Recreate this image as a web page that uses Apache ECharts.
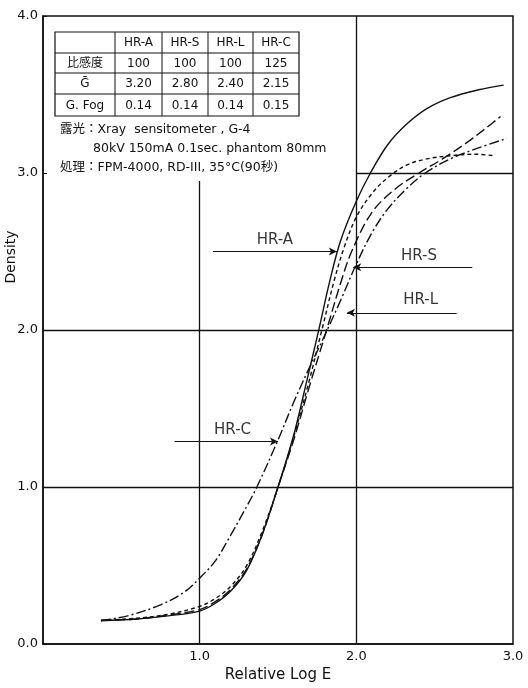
<!DOCTYPE html>
<html>
<head>
<meta charset="utf-8">
<script src="https://cdn.jsdelivr.net/npm/echarts@6/dist/echarts.min.js"></script>
<style>
  html, body { margin: 0; padding: 0; background: #fff; }
  #chart { width: 528px; height: 688px; }
</style>
</head>
<body>
<div id="chart"></div>
<script>
// characteristic curves, [relative log E, density]
const hrA = [[0.37,0.15],[0.6,0.16],[0.8,0.18],[1.0,0.21],[1.1,0.26],[1.2,0.34],[1.3,0.47],[1.4,0.7],[1.5,1.0],[1.6,1.33],[1.68,1.66],[1.76,2.0],[1.83,2.31],[1.9,2.57],[2.0,2.82],[2.09,3.0],[2.2,3.18],[2.32,3.31],[2.45,3.41],[2.6,3.48],[2.78,3.53],[2.94,3.56]];
const hrS = [[0.37,0.15],[0.6,0.165],[0.8,0.19],[1.0,0.24],[1.1,0.29],[1.2,0.37],[1.3,0.5],[1.4,0.72],[1.5,1.0],[1.6,1.32],[1.7,1.68],[1.78,2.0],[1.86,2.32],[1.92,2.52],[2.0,2.72],[2.1,2.87],[2.2,2.97],[2.32,3.05],[2.45,3.09],[2.6,3.11],[2.75,3.12],[2.88,3.11]];
const hrL = [[0.37,0.15],[0.6,0.16],[0.8,0.185],[1.0,0.22],[1.1,0.27],[1.2,0.35],[1.3,0.48],[1.4,0.7],[1.5,1.0],[1.6,1.3],[1.7,1.64],[1.81,2.0],[1.9,2.3],[1.97,2.5],[2.1,2.75],[2.25,2.9],[2.4,3.0],[2.55,3.09],[2.7,3.19],[2.82,3.28],[2.92,3.36]];
const hrC = [[0.37,0.15],[0.54,0.18],[0.75,0.25],[0.9,0.33],[1.0,0.42],[1.1,0.53],[1.19,0.68],[1.28,0.84],[1.365,1.0],[1.5,1.3],[1.6,1.54],[1.7,1.76],[1.8,1.97],[1.9,2.19],[2.0,2.42],[2.1,2.62],[2.2,2.77],[2.32,2.9],[2.44,3.0],[2.6,3.09],[2.78,3.16],[2.96,3.22]];

// film property table
const tableHeader = ['', 'HR-A', 'HR-S', 'HR-L', 'HR-C'];
const tableRows = [
  ['比感度', '100', '100', '100', '125'],
  ['Ḡ', '3.20', '2.80', '2.40', '2.15'],
  ['G. Fog', '0.14', '0.14', '0.14', '0.15']
];
const noteLines = [
  '露光：Xray  sensitometer , G-4',
  '80kV 150mA 0.1sec. phantom 80mm',
  '処理：FPM-4000, RD-III, 35°C(90秒)'
];

// curve labels with arrows: name, text position, arrow from -> to (data units)
const labelNames = ['HR-A', 'HR-S', 'HR-L', 'HR-C'];
const labelPos = [[1.48, 2.57], [2.40, 2.47], [2.41, 2.19], [1.21, 1.36]];
const arrowFrom = [[1.085, 2.50], [2.74, 2.40], [2.64, 2.11], [0.84, 1.29]];
const arrowTo = [[1.876, 2.50], [1.98, 2.40], [1.94, 2.11], [1.50, 1.29]];

// partial grid lines (data units)
const gridSegs = [
  [[1, 0], [1, 2.95]],
  [[2, 0], [2, 4]],
  [[0, 1], [3, 1]],
  [[0, 2], [3, 2]],
  [[2, 3], [3, 3]]
];

const FONT = '"DejaVu Sans", "Noto Sans CJK JP", sans-serif';
const INK = '#111';

const chart = echarts.init(document.getElementById('chart'));

// table drawn with graphic elements
const colX = [55, 115, 162, 208, 253, 299];
const rowY = [32, 53, 73, 94, 116];
const tableEls = [];
tableEls.push({
  type: 'rect',
  shape: { x: colX[0], y: rowY[0], width: colX[5] - colX[0], height: rowY[4] - rowY[0] },
  style: { fill: 'none', stroke: INK, lineWidth: 1.2 }
});
for (let i = 1; i < colX.length - 1; i++) {
  tableEls.push({ type: 'line', shape: { x1: colX[i], y1: rowY[0], x2: colX[i], y2: rowY[4] }, style: { stroke: INK, lineWidth: 1 } });
}
for (let j = 1; j < rowY.length - 1; j++) {
  tableEls.push({ type: 'line', shape: { x1: colX[0], y1: rowY[j], x2: colX[5], y2: rowY[j] }, style: { stroke: INK, lineWidth: 1 } });
}
[tableHeader].concat(tableRows).forEach(function (row, r) {
  row.forEach(function (cell, c) {
    if (!cell) return;
    tableEls.push({
      type: 'text',
      x: (colX[c] + colX[c + 1]) / 2,
      y: (rowY[r] + rowY[r + 1]) / 2 + 0.5,
      style: { text: cell, fill: INK, font: '12px ' + FONT, align: 'center', verticalAlign: 'middle' }
    });
  });
});
const noteX = [60, 93, 60];
const noteY = [130, 149, 168];
noteLines.forEach(function (t, i) {
  tableEls.push({
    type: 'text', x: noteX[i], y: noteY[i],
    style: { text: t, fill: INK, font: '12.5px ' + FONT, align: 'left', verticalAlign: 'middle' }
  });
});
tableEls.push({
  type: 'text', x: 11, y: 257, rotation: Math.PI / 2,
  style: { text: 'Density', fill: INK, font: '14px ' + FONT, align: 'center', verticalAlign: 'middle' }
});

const curve = function (name, data, type) {
  return {
    type: 'line', name: name, data: data, smooth: 0.35,
    showSymbol: false, silent: true,
    lineStyle: { color: INK, width: 1.4, type: type }
  };
};

const gridLines = gridSegs.map(function (s) {
  return [{ coord: s[0] }, { coord: s[1] }];
});
const arrowLines = arrowFrom.map(function (f, i) {
  return [{ coord: f, symbol: 'none' }, { coord: arrowTo[i], symbol: 'arrow' }];
});

const option = {
  backgroundColor: '#fff',
  animation: false,
  textStyle: { fontFamily: FONT },
  grid: { left: 43, right: 15, top: 16, bottom: 41, show: true, borderColor: INK, borderWidth: 1.5 },
  xAxis: {
    type: 'value', min: 0, max: 3, interval: 1,
    name: 'Relative Log E', nameLocation: 'middle', nameGap: 23,
    nameTextStyle: { fontSize: 15, color: INK, fontFamily: FONT },
    axisLine: { lineStyle: { color: INK, width: 1.5 } },
    axisTick: { show: false },
    splitLine: { show: false },
    axisLabel: {
      color: INK, fontSize: 13, margin: 6, fontFamily: FONT,
      formatter: function (v) { return v === 0 ? '' : v.toFixed(1); }
    }
  },
  yAxis: {
    type: 'value', min: 0, max: 4, interval: 1,
    axisLine: { show: true, lineStyle: { color: INK, width: 1.5 } },
    axisTick: { show: true, inside: true, length: 4, lineStyle: { color: INK } },
    splitLine: { show: false },
    axisLabel: { color: INK, fontSize: 13, margin: 5, fontFamily: FONT, formatter: function (v) { return v.toFixed(1); } }
  },
  graphic: tableEls,
  series: [
    {
      type: 'line', name: 'grid', data: [], silent: true,
      markLine: {
        silent: true, symbol: 'none', animation: false,
        lineStyle: { color: INK, width: 1.3, type: 'solid' },
        label: { show: false },
        data: gridLines
      }
    },
    {
      type: 'line', name: 'arrows', data: [], silent: true,
      markLine: {
        silent: true, symbolSize: [6, 8], animation: false,
        lineStyle: { color: INK, width: 1, type: 'solid' },
        label: { show: false },
        data: arrowLines
      }
    },
    {
      type: 'scatter', name: 'labels', symbolSize: 0, silent: true,
      data: labelNames.map(function (n, i) { return { name: n, value: labelPos[i] }; }),
      label: { show: true, position: 'inside', formatter: '{b}', color: '#000', fontSize: 15, fontFamily: FONT }
    },
    curve('HR-A', hrA, 'solid'),
    curve('HR-S', hrS, [4, 3]),
    curve('HR-L', hrL, [10, 4]),
    curve('HR-C', hrC, [10, 3, 2, 3])
  ]
};

chart.setOption(option);
</script>
</body>
</html>
